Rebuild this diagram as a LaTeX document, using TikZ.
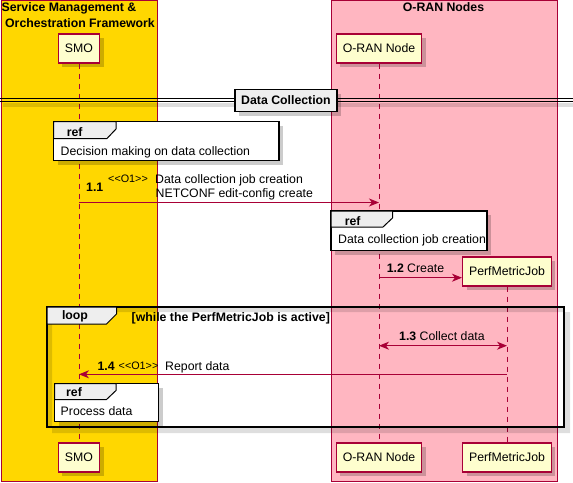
\documentclass[tikz,border=0pt]{standalone}
\usepackage{fontspec}
\setmainfont{Liberation Sans}
\usetikzlibrary{arrows.meta,shadows}

\definecolor{umlred}{HTML}{A80036}
\definecolor{partfill}{HTML}{FEFECE}
\definecolor{smobg}{HTML}{FFD700}
\definecolor{ranbg}{HTML}{FFB6C1}
\definecolor{tabfill}{HTML}{EEEEEE}

\tikzset{
	>={Stealth[length=10pt,width=8pt,inset=3pt]},
	dropshade/.style={drop shadow={shadow xshift=4pt,shadow yshift=-4pt,fill=black,opacity=.2}},
	shadowfill/.style={fill=black,fill opacity=.13},
	title/.style={anchor=base,inner sep=0pt,font=\fontsize{12.3}{14}\selectfont\bfseries},
	participant/.style={draw=umlred,line width=1.2pt,fill=partfill,minimum height=29pt,inner xsep=6.5pt,dropshade},
	lifeline/.style={draw=umlred,line width=.9pt,dash pattern=on 5pt off 5pt},
	msg/.style={draw=umlred,line width=.9pt,->},
	lbl/.style={anchor=base west,inner sep=0pt},
	stereo/.style={lbl,font=\fontsize{10.8}{12}\selectfont},
	tag/.style={anchor=base,inner sep=0pt,font=\fontsize{12.3}{14}\selectfont\bfseries},
	refframe/.style={draw=black,line width=1.5pt,fill=white,dropshade},
	reftab/.style={draw=black,line width=1pt,fill=tabfill},
	divider/.style={draw=black,line width=1.5pt,fill=tabfill,minimum width=102pt,minimum height=22pt,font=\fontsize{12.3}{14}\selectfont\bfseries,dropshade}
}

\begin{document}
\begin{tikzpicture}[x=1pt,y=-1pt,font=\fontsize{12.3}{14}\selectfont]
	\useasboundingbox (0,0) rectangle (573,482);

	\draw[umlred,fill=smobg] (1,.5) rectangle (157,481);
	\draw[umlred,fill=ranbg] (331,.5) rectangle (557,481);
	\node[title] (smoTitle1) at (69,11.6) {Service Management \&};
	\node[title] (smoTitle2) at (80,27.6) {Orchestration Framework};
	\node[title] (ranTitle) at (443.5,11.6) {O-RAN Nodes};

	\node[participant] (smoTop) at (79,48.5) {SMO};
	\node[participant] (ranTop) at (379,48.5) {O-RAN Node};
	\node[participant] (pmjTop) at (507,271.5) {PerfMetricJob};
	\node[participant] (smoBot) at (79,457.5) {SMO};
	\node[participant] (ranBot) at (379,457.5) {O-RAN Node};
	\node[participant] (pmjBot) at (507,457.5) {PerfMetricJob};

	\draw[lifeline] (smoTop) -- (smoBot);
	\draw[lifeline] (ranTop) -- (ranBot);
	\draw[lifeline] (pmjTop) -- (pmjBot);

	\fill[shadowfill] (3,102.5) rectangle (573,107);
	\draw[line width=1pt] (0,98.7) -- (573,98.7) (0,101.7) -- (573,101.7);
	\node[divider] (dataColl) at (286,100.5) {Data Collection};

	\draw[refframe] (53.5,121.5) rectangle (279,160.5);
	\draw[reftab] (53.5,121.5) -- (116,121.5) -- (116,129) -- (107,138.5) -- (53.5,138.5) -- cycle;
	\node[tag] (ref1Tag) at (74.7,136) {ref};
	\node[lbl] (ref1Txt) at (60.5,155) {Decision making on data collection};

	\coordinate (m11s) at (smoTop.south |- 0,202.5);
	\coordinate (m11e) at (ranTop.south |- 0,202.5);
	\draw[msg] (m11s) -- (m11e);
	\node[tag,anchor=base west] (m11No) at (86,191.6) {1.1};
	\node[stereo] (m11St) at (108,182.5) {<{}<O1>{}>};
	\node[lbl] (m11Txt1) at (155,183) {Data collection job creation};
	\node[lbl] (m11Txt2) at (155.5,197.3) {NETCONF edit-config create};

	\draw[refframe] (331,211) rectangle (487,250.5);
	\draw[reftab] (331,211) -- (392.5,211) -- (392.5,218) -- (383,227) -- (331,227) -- cycle;
	\node[tag] (ref2Tag) at (352.7,225) {ref};
	\node[lbl] (ref2Txt) at (338,243.3) {Data collection job creation};

	\coordinate (m12s) at (ranTop.south |- 0,277.7);
	\coordinate (m12e) at (pmjTop.west |- m12s);
	\draw[msg] (m12s) -- (m12e);
	\node[tag,anchor=base west] (m12No) at (386.7,272) {1.2};
	\node[lbl] (m12Txt) at (407,272) {Create};

	\fill[shadowfill,even odd rule] (52,312) rectangle (570,433) (47,307) rectangle (564,426.5);
	\draw[line width=2pt] (47,307) rectangle (564,426.5);
	\draw[reftab] (47,307) -- (116.5,307) -- (116.5,314) -- (106.5,324) -- (47,324) -- cycle;
	\node[tag] (loopTag) at (75,319.5) {loop};
	\node[tag,anchor=base west] (loopCond) at (131.5,321) {[while the PerfMetricJob is active]};

	\coordinate (m13s) at (ranTop.south |- 0,345.7);
	\coordinate (m13e) at (pmjTop.south |- m13s);
	\draw[msg,<->] (m13s) -- (m13e);
	\node[tag,anchor=base west] (m13No) at (399,340.3) {1.3};
	\node[lbl] (m13Txt) at (419.5,340.3) {Collect data};

	\coordinate (m14s) at (pmjTop.south |- 0,374.3);
	\coordinate (m14e) at (smoTop.south |- m14s);
	\draw[msg] (m14s) -- (m14e);
	\node[tag,anchor=base west] (m14No) at (97.3,370) {1.4};
	\node[stereo] (m14St) at (118.5,369.5) {<{}<O1>{}>};
	\node[lbl] (m14Txt) at (165,370) {Report data};

	\draw[refframe] (54.5,383.5) rectangle (158.5,421.5);
	\draw[reftab] (54.5,383.5) -- (116,383.5) -- (116,390.5) -- (106.5,399.5) -- (54.5,399.5) -- cycle;
	\node[tag] (ref3Tag) at (74,396.6) {ref};
	\node[lbl] (ref3Txt) at (60.5,415.3) {Process data};
\end{tikzpicture}
\end{document}
